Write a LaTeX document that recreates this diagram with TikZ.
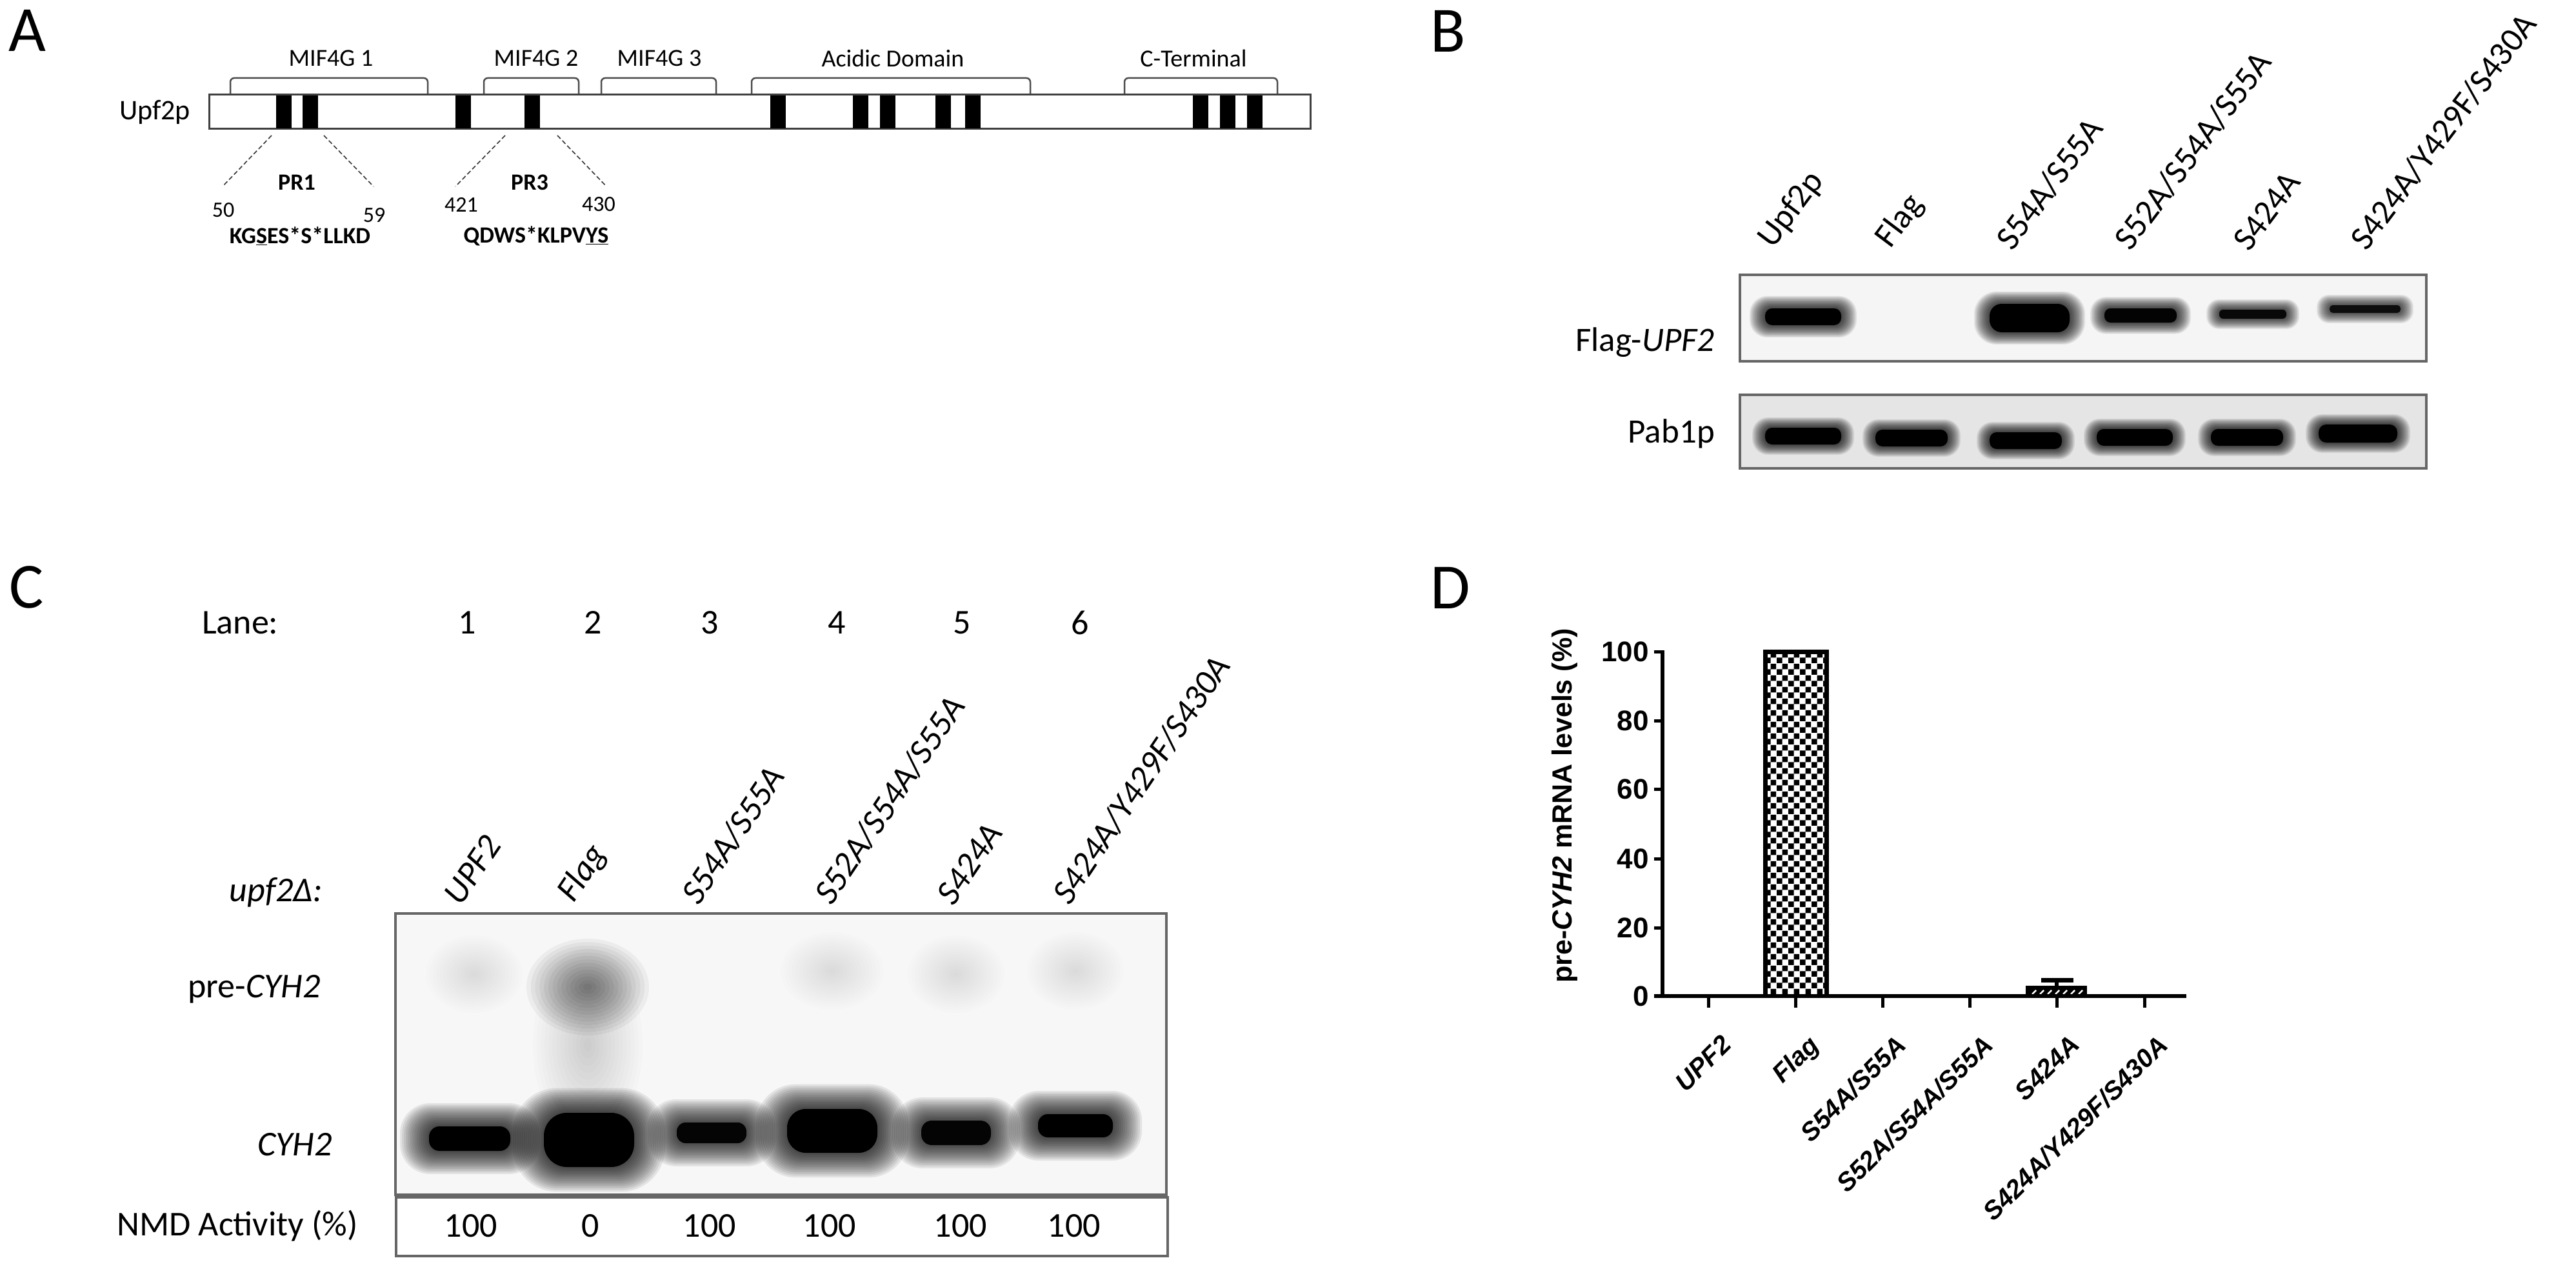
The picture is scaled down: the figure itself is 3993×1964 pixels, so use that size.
\documentclass[tikz,border=0pt]{standalone}
\usepackage{fontspec}
\setmainfont{Carlito}
\newfontfamily\arialf{Liberation Sans}
\usetikzlibrary{patterns}
\pgfdeclarepatternformonly{chkbig}{\pgfpointorigin}{\pgfqpoint{18pt}{18pt}}{\pgfqpoint{18pt}{18pt}}{%
  \pgfpathrectangle{\pgfpointorigin}{\pgfqpoint{9pt}{9pt}}%
  \pgfpathrectangle{\pgfqpoint{9pt}{9pt}}{\pgfqpoint{9pt}{9pt}}%
  \pgfusepath{fill}}
% soft blurred band: centre x, centre y, width, height, strength, blur spread
\newcommand\gband[6]{%
  \foreach \s in {14,13,...,1}{%
    \pgfmathsetmacro\op{0.08*#5}%
    \pgfmathsetmacro\dx{\s*#6/14}%
    \pgfmathsetmacro\dy{\s*#6/14*0.8}%
    \pgfmathsetmacro\rr{min(#4/2+\dy,#3/2+\dx)*0.85}%
    \fill[black, fill opacity=\op, rounded corners=\rr pt]
      ({#1-#3/2-\dx},{#2-#4/2-\dy}) rectangle ({#1+#3/2+\dx},{#2+#4/2+\dy});
  }%
  \pgfmathsetmacro\op{#5}%
  \pgfmathsetmacro\rr{min(#4/2,#3/2)*0.85}%
  \fill[black, fill opacity=\op, rounded corners=\rr pt]
    ({#1-#3/2},{#2-#4/2}) rectangle ({#1+#3/2},{#2+#4/2});
}
% diffuse smear: centre x, centre y, x radius, y radius, per-layer opacity
\newcommand\gblob[5]{%
  \foreach \k in {1,...,14}{%
    \pgfmathsetmacro\rx{#3*\k/14}%
    \pgfmathsetmacro\ry{#4*\k/14}%
    \fill[black, fill opacity=#5] (#1,#2) ellipse [x radius=\rx pt, y radius=\ry pt];
  }}
\begin{document}
\begin{tikzpicture}[x=1pt,y=-1pt,
  every node/.style={inner sep=0pt},
  panel/.style={font=\fontsize{100}{110}\selectfont},
  domlbl/.style={font=\fontsize{38}{42}\selectfont},
  seqb/.style={font=\bfseries\fontsize{36}{40}\selectfont},
  resnum/.style={font=\fontsize{34}{38}\selectfont},
  blab/.style={font=\fontsize{53}{58}\selectfont},
  clab/.style={font=\fontsize{54}{60}\selectfont},
  dtick/.style={font=\arialf\bfseries\fontsize{44}{48}\selectfont},
  dlab/.style={font=\arialf\bfseries\itshape\fontsize{40}{44}\selectfont},
  bracket/.style={draw=black!70, line width=2.5pt, rounded corners=6pt},
  stripe/.style={fill=black},
  dashln/.style={draw=black!80, line width=1.6pt, dash pattern=on 7pt off 4pt},
  gelbox/.style={draw=black!60, line width=4pt},
  axisln/.style={draw=black, line width=6pt}]
\useasboundingbox (0,0) rectangle (3993,1964);
\fill[white] (0,0) rectangle (3993,1964);

% ================= Panel A =================
\node[panel] (labA) at (42,47) {A};
\foreach \a/\b in {357/663,750/897,932/1110,1165/1597,1743/1980}{
  \draw[bracket] (\a,147) -- (\a,121) -- (\b,121) -- (\b,147);
}
\node[domlbl] (dom1) at (513,90) {MIF4G 1};
\node[domlbl] (dom2) at (831,90) {MIF4G 2};
\node[domlbl] (dom3) at (1022,90) {MIF4G 3};
\node[domlbl] (dom4) at (1384,90) {Acidic Domain};
\node[domlbl] (dom5) at (1850,90) {C-Terminal};
\node[font=\fontsize{44}{48}\selectfont] (upf2p) at (240,174) {Upf2p};
\draw[draw=black!75, line width=3pt, fill=white] (324,147) rectangle (2031,200);
\foreach \s in {428,469,706,813,1194,1322,1364,1450,1496,1849,1891,1933}{
  \fill[stripe] (\s,148) rectangle ({\s+24},199);
}
\coordinate (p1a) at (421,210); \coordinate (p1b) at (345,289);
\coordinate (p1c) at (502,210); \coordinate (p1d) at (579,289);
\coordinate (p3a) at (783,210); \coordinate (p3b) at (706,289);
\coordinate (p3c) at (864,210); \coordinate (p3d) at (940,289);
\draw[dashln] (p1a) -- (p1b);
\draw[dashln] (p1c) -- (p1d);
\draw[dashln] (p3a) -- (p3b);
\draw[dashln] (p3c) -- (p3d);
\node[seqb] (pr1) at (460,283) {PR1};
\node[seqb] (pr3) at (821,283) {PR3};
\node[resnum] (n50) at (346,326) {50};
\node[resnum] (n59) at (580,334) {59};
\node[resnum] (n421) at (715,317) {421};
\node[resnum] (n430) at (928,317) {430};
\node[seqb] (seq1) at (465,366) {KG\underline{S}ES*S*LLKD};
\node[seqb] (seq3) at (831,366) {QDWS*KLPV\underline{YS}};

% ================= Panel B =================
\node[panel] (labB) at (2245,48) {B};
\foreach \x/\t in {2755/{Upf2p},2938/{Flag},3121/{S54A/S55A},3304/{S52A/S54A/S55A},3487/{S424A},3670/{S424A/Y429F/S430A}}{
  \node[blab, rotate=53, anchor=south west] at (\x,392) {\t};
}
\fill[black!4] (2697,426) rectangle (3761,560);
\fill[black!10] (2697,612) rectangle (3761,726);
\begin{scope}
\clip (2697,426) rectangle (3761,560);
\gband{2795}{491}{118}{26}{1}{24}
\gband{3146}{493}{124}{44}{1}{24}
\gband{3318}{489}{112}{22}{0.95}{22}
\gband{3492}{487}{104}{14}{0.9}{20}
\gband{3666}{479}{110}{12}{0.85}{20}
\end{scope}
\begin{scope}
\clip (2697,612) rectangle (3761,726);
\gband{2795}{676}{118}{26}{1}{20}
\gband{2963}{679}{112}{26}{1}{20}
\gband{3140}{683}{112}{26}{1}{20}
\gband{3309}{678}{118}{26}{1}{20}
\gband{3483}{678}{112}{26}{1}{20}
\gband{3655}{672}{122}{28}{1}{20}
\end{scope}
\draw[gelbox, line width=3.5pt] (2697,426) rectangle (3761,560);
\draw[gelbox, line width=3.5pt] (2697,612) rectangle (3761,726);
\node[blab, anchor=east] (flagupf) at (2658,531) {Flag-\textit{UPF2}};
\node[blab, anchor=east] (pab) at (2658,672) {Pab1p};

% ================= Panel C =================
\node[panel] (labC) at (41,910) {C};
\node[clab, anchor=west] (lane) at (313,965) {Lane:};
\foreach \x/\n in {724/1,919/2,1100/3,1297/4,1491/5,1674/6}{
  \node[clab] at (\x,965) {\n};
}
\node[clab, anchor=east] (upfd) at (500,1383) {\textit{upf2Δ:}};
\foreach \x/\t in {715/{UPF2},897/{Flag},1085/{S54A/S55A},1291/{S52A/S54A/S55A},1479/{S424A},1660/{S424A/Y429F/S430A}}{
  \node[clab, rotate=56, anchor=south west] at (\x,1406) {\textit{\t}};
}
\fill[black!3] (613,1416) rectangle (1808,1852);
\begin{scope}
\clip (613,1416) rectangle (1808,1852);
% faint pre-CYH2 smudges
\gblob{735}{1510}{75}{60}{0.007}
\gblob{1290}{1505}{80}{60}{0.009}
\gblob{1482}{1510}{75}{60}{0.007}
\gblob{1667}{1505}{75}{60}{0.007}
% lane 2 pre-CYH2 smear
\gblob{911}{1620}{85}{150}{0.012}
\gblob{911}{1530}{95}{75}{0.045}
% CYH2 bands
\gband{728}{1765}{126}{38}{1}{45}
\gband{913}{1767}{140}{84}{1}{48}
\gband{1103}{1756}{108}{32}{0.95}{45}
\gband{1290}{1753}{140}{68}{1}{48}
\gband{1482}{1756}{108}{38}{0.95}{45}
\gband{1667}{1745}{116}{36}{1}{45}
\end{scope}
\draw[gelbox] (613,1416) rectangle (1808,1852);
\draw[gelbox] (614,1856) rectangle (1810,1947);
\node[clab, anchor=east] (pre) at (497,1533) {pre-\textit{CYH2}};
\node[clab, anchor=east] (cyh) at (515,1774) {\textit{CYH2}};
\node[clab, anchor=east] (nmd) at (555,1900) {NMD Activity (\%)};
\foreach \x/\v in {730/100,915/0,1100/100,1286/100,1489/100,1665/100}{
  \node[clab] at (\x,1900) {\v};
}

% ================= Panel D =================
\node[panel] (labD) at (2248,911) {D};
\node[dtick, font=\arialf\bfseries\fontsize{43}{48}\selectfont, rotate=90] (ylab) at (2425,1249) {pre-\textit{CYH2} mRNA levels (\%)};
\foreach \y/\v in {1010/100,1117/80,1223/60,1331/40,1438/20,1544/0}{
  \draw[line width=5pt] (2564,\y) -- (2577,\y);
  \node[dtick, anchor=east] at (2556,\y) {\v};
}
% Flag bar
\fill[white] (2736,1010) rectangle (2831,1544);
\fill[pattern=chkbig, pattern color=black] (2736,1010) rectangle (2831,1544);
\draw[line width=7pt] (2736,1544) -- (2736,1010) -- (2831,1010) -- (2831,1544);
% S424A bar
\fill[black] (3140,1528) rectangle (3235,1544);
\foreach \h in {3150,3162,...,3226}{
  \draw[white, line width=2.5pt] (\h,1541) -- ({\h+6},1535);
}
\draw[line width=6pt] (3188,1530) -- (3188,1519);
\draw[line width=7pt] (3164,1519) -- (3214,1519);
% axes
\draw[axisln] (2577,1008) -- (2577,1544);
\draw[axisln] (2564,1544) -- (3389,1544);
\foreach \x/\t in {2648/{UPF2},2783/{Flag},2918/{S54A/S55A},3053/{S52A/S54A/S55A},3188/{S424A},3324/{S424A/Y429F/S430A}}{
  \draw[line width=5pt] (\x,1544) -- (\x,1562);
  \node[dlab, rotate=45, anchor=north east] at ({\x+18},1602) {\t};
}
\end{tikzpicture}
\end{document}
